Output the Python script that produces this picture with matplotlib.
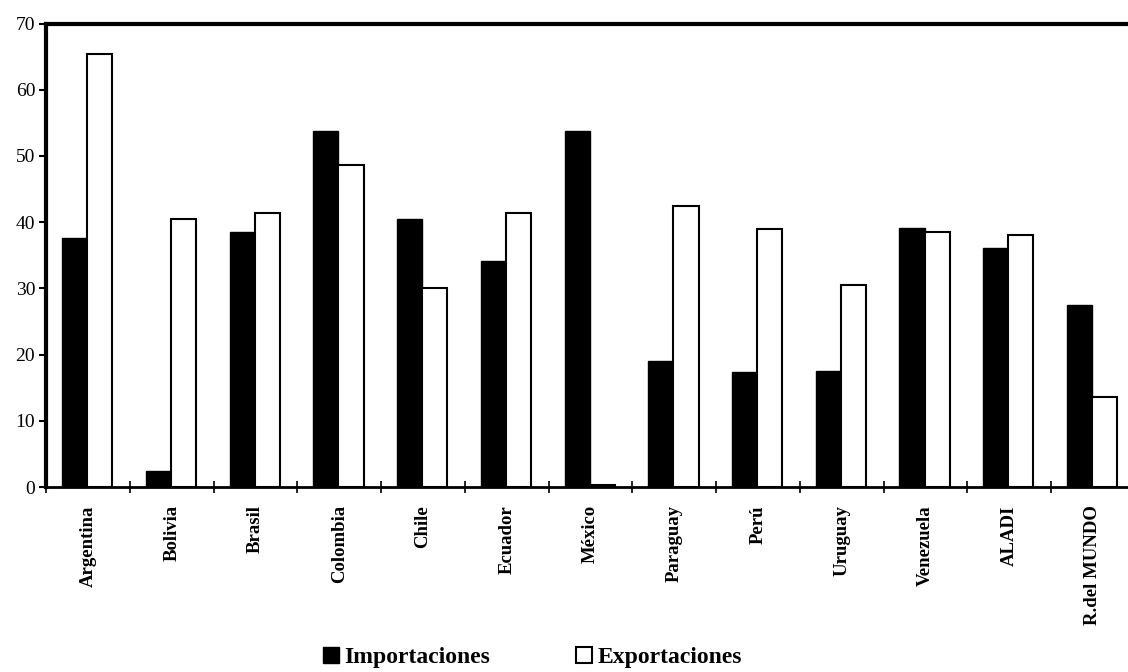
import numpy as np
import matplotlib
matplotlib.use('Agg')
import matplotlib.pyplot as plt
from matplotlib.patches import Patch

plt.rcParams['font.family'] = ['Liberation Serif', 'DejaVu Serif']

paises = ['Argentina', 'Bolivia', 'Brasil', 'Colombia', 'Chile', 'Ecuador', 'México',
          'Paraguay', 'Perú', 'Uruguay', 'Venezuela', 'ALADI', 'R.del MUNDO']
importaciones = [37.6, 2.5, 38.6, 53.7, 40.5, 34.1, 53.7, 19.0, 17.4, 17.6, 39.2, 36.1, 27.5]
exportaciones = [65.4, 40.5, 41.4, 48.7, 30.0, 41.4, 0.4, 42.4, 39.0, 30.6, 38.5, 38.0, 13.6]

fig = plt.figure(figsize=(11.28, 6.72), dpi=100)
ax = fig.add_axes([0.041, 0.275, 0.965, 0.690])

x = np.arange(len(paises))
w = 0.30
ax.bar(x - w / 2 - 0.01, importaciones, w, color='black', edgecolor='black', linewidth=1)
ax.bar(x + w / 2 - 0.01, exportaciones, w, color='white', edgecolor='black', linewidth=1.5)

ax.set_xlim(-0.5, 12.5)
ax.set_ylim(0, 70)
ax.set_yticks(range(0, 71, 10))
ax.tick_params(axis='y', direction='out', length=5, width=1.5, labelsize=14, pad=3)

ax.set_xticks(x)
ax.set_xticklabels(paises, rotation=90, fontsize=13.5, fontweight='bold')
ax.tick_params(axis='x', which='major', length=0, pad=13)
ax.set_xticks(np.arange(-0.5, 13, 1), minor=True)
ax.tick_params(axis='x', which='minor', direction='inout', length=8, width=1.2)

ax.spines['left'].set_linewidth(3)
ax.spines['top'].set_linewidth(3)
ax.spines['bottom'].set_linewidth(2)
ax.spines['right'].set_visible(False)

handles = [Patch(facecolor='black', edgecolor='black', label='Importaciones'),
           Patch(facecolor='white', edgecolor='black', linewidth=1.5, label='Exportaciones')]
fig.legend(handles=handles, loc='center', bbox_to_anchor=(0.472, 0.022), ncol=2,
           frameon=False, prop={'size': 17, 'weight': 'bold'}, columnspacing=3.6,
           handlelength=0.68, handleheight=0.68, handletextpad=0.25, borderpad=0)

fig.savefig('out.png', dpi=100)
